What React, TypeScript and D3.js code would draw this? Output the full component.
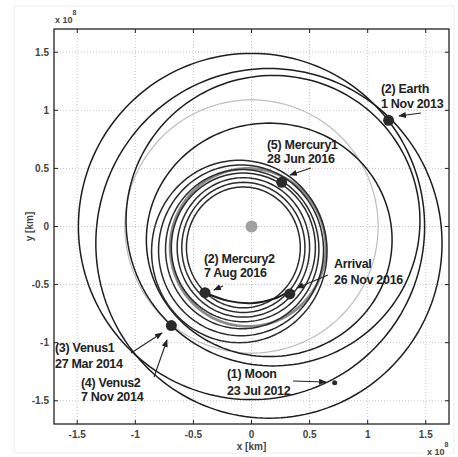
import React from 'react';
import * as d3 from 'd3';

// axis ticks (units of 1e8 km)
const tickValues = [-1.5, -1, -0.5, 0, 0.5, 1, 1.5];

// outer loops, extents: left, right, top, bottom
const outerLeft = [-1.49, -1.34, -1.08, -0.905];
const outerRight = [1.49, 1.64, 1.45, 1.21];
const outerTop = [1.49, 1.36, 1.3, 0.89];
const outerBottom = [-1.49, -1.65, -1.2, -1.12];

// inner loops around Mercury's orbit
const innerLeft = [-0.86, -0.8, -0.74, -0.69, -0.64, -0.6, -0.56];
const innerRight = [0.65, 0.62, 0.58, 0.55, 0.5, 0.46, 0.42];
const innerTop = [0.57, 0.53, 0.49, 0.46, 0.42, 0.38, 0.34];
const innerBottom = [-1.0, -0.94, -0.88, -0.82, -0.78, -0.74, -0.7];

// reference orbits drawn in grey (Venus, Mercury)
const greyLeft = [-1.09, -0.7];
const greyRight = [1.09, 0.64];
const greyTop = [1.09, 0.5];
const greyBottom = [-1.09, -0.86];

// last arc Mercury2 -> Arrival
const finalArcX = [-0.4, -0.2, 0, 0.2, 0.32];
const finalArcY = [-0.57, -0.64, -0.66, -0.62, -0.56];

// flyby points
const flybyNames = ['Earth', 'Mercury1', 'Mercury2', 'Arrival', 'Venus', 'Moon'];
const flybyX = [1.18, 0.26, -0.4, 0.33, -0.69, 0.716];
const flybyY = [0.914, 0.38, -0.57, -0.58, -0.853, -1.345];

const labels = [
  { lines: ['(2) Earth', '1 Nov 2013'], px: 381, py: 93, dy: 15, from: [421, 113], to: [399, 116] },
  { lines: ['(5) Mercury1', '28 Jun 2016'], px: 267, py: 149, dy: 14, from: [311, 168], to: [290, 175] },
  { lines: ['(2) Mercury2', '7 Aug 2016'], px: 204, py: 263, dy: 14, from: [223, 286], to: [214, 290] },
  { lines: ['Arrival', '26 Nov 2016'], px: 334, py: 268, dy: 16, from: [328, 275], to: [297, 288] },
  { lines: ['(3) Venus1', '27 Mar 2014'], px: 55, py: 352, dy: 16, from: [131, 353], to: [162, 333] },
  { lines: ['(4) Venus2', '7 Nov 2014'], px: 81, py: 387, dy: 14, from: [154, 377], to: [167, 340] },
  { lines: ['(1) Moon', '23 Jul 2012'], px: 227, py: 378, dy: 17, from: [293, 381], to: [326, 382] },
];

const W = 458;
const H = 457;
const font = '"Liberation Sans", Arial, sans-serif';

const x = d3.scaleLinear().domain([-1.7, 1.7]).range([54, 449]);
const y = d3.scaleLinear().domain([-1.7, 1.7]).range([424, 29]);

const angles = d3.range(0, 360, 2).map(a => (a * Math.PI) / 180);
const closedLine = d3.line<[number, number]>()
  .x(d => x(d[0]))
  .y(d => y(d[1]))
  .curve(d3.curveLinearClosed);

const ellipsePath = (l: number, r: number, t: number, b: number) => {
  const cx = (l + r) / 2, cy = (t + b) / 2;
  const rx = (r - l) / 2, ry = (t - b) / 2;
  return closedLine(angles.map(a => [cx + rx * Math.cos(a), cy + ry * Math.sin(a)] as [number, number]));
};

const arcLine = d3.line<number>()
  .x(i => x(finalArcX[i]))
  .y(i => y(finalArcY[i]))
  .curve(d3.curveCatmullRom);

export default function App() {
  const [x0, x1] = x.range();
  const [y0, y1] = y.range();
  return (
    <svg width={W} height={H} style={{ position: 'absolute', left: 0, top: 0, background: '#fff' }}
      fontFamily={font}>
      <defs>
        <marker id="ah" viewBox="0 0 10 10" refX="9" refY="5" markerWidth="7" markerHeight="7" orient="auto">
          <path d="M0,1 L10,5 L0,9 z" fill="#222" />
        </marker>
      </defs>
      <rect x={14} y={6} width={440} height={447} fill="none" stroke="#eee" />
      {/* grid */}
      {tickValues.map(t => (
        <g key={'g' + t} stroke="#c4c4c4" strokeDasharray="1,2" strokeWidth={1}>
          <line x1={x(t)} x2={x(t)} y1={y1} y2={y0} />
          <line x1={x0} x2={x1} y1={y(t)} y2={y(t)} />
        </g>
      ))}
      {/* grey reference orbits */}
      <path d={ellipsePath(greyLeft[0], greyRight[0], greyTop[0], greyBottom[0]) || ''} fill="none" stroke="#bdbdbd" strokeWidth={1.2} />
      <path d={ellipsePath(greyLeft[1], greyRight[1], greyTop[1], greyBottom[1]) || ''} fill="none" stroke="#8a8a8a" strokeWidth={2.8} />
      {/* outer trajectory loops */}
      {outerLeft.map((l, i) => (
        <path key={'o' + i} d={ellipsePath(l, outerRight[i], outerTop[i], outerBottom[i]) || ''}
          fill="none" stroke="#1e1e1e" strokeWidth={1.5} />
      ))}
      {/* inner loops */}
      {innerLeft.map((l, i) => (
        <path key={'i' + i} d={ellipsePath(l, innerRight[i], innerTop[i], innerBottom[i]) || ''}
          fill="none" stroke="#2a2a2a" strokeWidth={1.5} />
      ))}
      <path d={arcLine(d3.range(finalArcX.length)) || ''} fill="none" stroke="#1e1e1e" strokeWidth={2} />
      {/* sun */}
      <circle cx={x(0)} cy={y(0)} r={6} fill="#a0a0a0" />
      {/* flyby markers */}
      {flybyNames.map((n, i) => (
        <circle key={n} cx={x(flybyX[i])} cy={y(flybyY[i])} r={n === 'Moon' ? 2.5 : 5.5} fill="#2a2a2a" />
      ))}
      {/* labels */}
      {labels.map((a, i) => (
        <g key={'l' + i}>
          {a.lines.map((s, j) => (
            <text key={j} x={a.px} y={a.py + j * a.dy} fontSize={12.5} fontWeight="bold" fill="#222" letterSpacing={-0.3}>{s}</text>
          ))}
          <line x1={a.from[0]} y1={a.from[1]} x2={a.to[0]} y2={a.to[1]} stroke="#222" strokeWidth={1.1} markerEnd="url(#ah)" />
        </g>
      ))}
      {/* frame */}
      <rect x={x0} y={y1} width={x1 - x0} height={y0 - y1} fill="none" stroke="#222" strokeWidth={1.3} />
      {tickValues.map(t => (
        <g key={'t' + t} stroke="#222" strokeWidth={1}>
          <line x1={x(t)} x2={x(t)} y1={y0} y2={y0 - 4} />
          <line x1={x(t)} x2={x(t)} y1={y1} y2={y1 + 4} />
          <line x1={x0} x2={x0 + 4} y1={y(t)} y2={y(t)} />
          <line x1={x1} x2={x1 - 4} y1={y(t)} y2={y(t)} />
        </g>
      ))}
      {/* tick labels */}
      {tickValues.map(t => (
        <text key={'xl' + t} x={x(t)} y={438} fontSize={10} fontWeight="bold" textAnchor="middle" fill="#444">{String(t)}</text>
      ))}
      {tickValues.map(t => (
        <text key={'yl' + t} x={49} y={y(t) + 3.5} fontSize={10} fontWeight="bold" textAnchor="end" fill="#444">{String(t)}</text>
      ))}
      <text x={x(0)} y={450} fontSize={10} fontWeight="bold" textAnchor="middle" fill="#444">x [km]</text>
      <text transform={`translate(33,${y(0)}) rotate(-90)`} fontSize={10} fontWeight="bold" textAnchor="middle" fill="#444">y [km]</text>
      <text x={55} y={23} fontSize={9} fontWeight="bold" fill="#444">x 10<tspan dy={-8} fontSize={7}>8</tspan></text>
      <text x={427} y={455} fontSize={9} fontWeight="bold" fill="#444">x 10<tspan dy={-8} fontSize={7}>8</tspan></text>
    </svg>
  );
}
